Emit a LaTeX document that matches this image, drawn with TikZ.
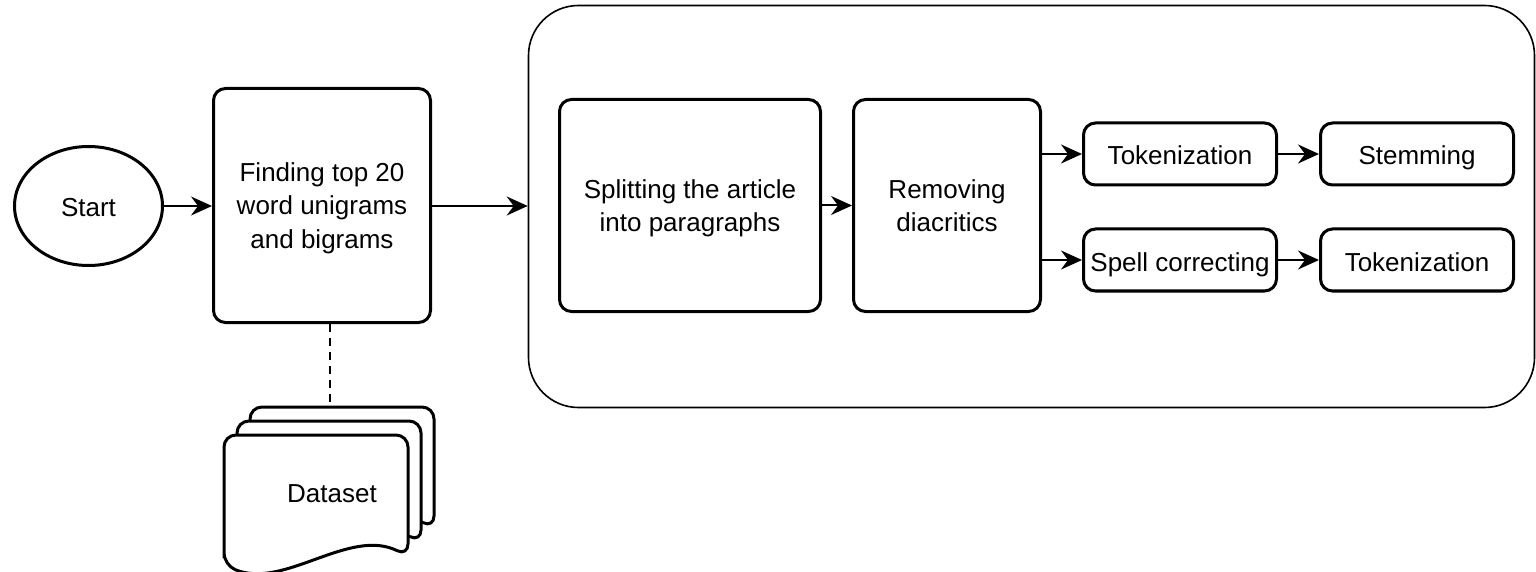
\documentclass[tikz,border=0pt]{standalone}
\usepackage{fontspec}
\setmainfont{Liberation Sans}
\usetikzlibrary{arrows.meta,shapes.geometric}

\tikzset{every picture/.style={line width=1.5pt}}
\tikzset{
  box/.style={draw,rounded corners=6pt,align=center,inner sep=1pt,text depth=-3.5pt},
  tbox/.style={draw,rounded corners=6pt,minimum width=96.5pt,minimum height=31pt,inner sep=0pt,text height=11pt,text depth=0pt},
  arr/.style={-{Stealth[length=10.5pt,width=9.5pt,inset=3.5pt]},line width=1pt},
  sheet/.style={draw,fill=white,rounded corners=6pt,line width=1.5pt}
}
\newcommand{\docsheet}[2]{%
  \draw[sheet] (#1,#2+130) -- (#1,#2) -- (#1+184,#2) -- (#1+184,#2+121)
    .. controls (#1+125,#2+92) and (#1+60,#2+155) .. (#1,#2+130) -- cycle;}

\begin{document}
\begin{tikzpicture}[x=0.5pt,y=-0.5pt,every node/.style={font=\fontsize{13}{16.8}\selectfont}]
\useasboundingbox (0,0) rectangle (1536,572);

%Container
\node[draw,line width=0.8pt,rounded corners=25pt,minimum width=503pt,minimum height=201pt] (pre) at (1031.5,206.5) {};

%Start and first step
\node[draw,ellipse,minimum width=74pt,minimum height=59.5pt,inner sep=0pt,text height=11pt,text depth=0pt] (start) at (88.5,206) {Start};
\node[box,minimum width=108.5pt,minimum height=117pt] (find) at (322,205.5) {Finding top 20\\word unigrams\\and bigrams};

%Steps inside the container
\node[box,minimum width=130.5pt,minimum height=106pt] (split) at (690,205.5) {Splitting the article\\into paragraphs};
\node[box,minimum width=93.5pt,minimum height=106pt,text depth=-6pt] (rem) at (947,205.5) {Removing\\diacritics};
\node[tbox] (tok1) at (1180,154) {Tokenization};
\node[tbox] (stem) at (1417,154) {Stemming};
\node[tbox] (spell) at (1180,260) {Spell correcting};
\node[tbox] (tok2) at (1417,260) {Tokenization};

%Arrows
\draw[arr] (start.east) -- (start.east -| find.west);
\draw[arr] (find.east |- start.east) -- (start.east -| pre.west);
\draw[arr] (split.east |- rem.west) -- (rem.west);
\draw[arr] (rem.east |- tok1.west) -- (tok1.west);
\draw[arr] (rem.east |- spell.west) -- (spell.west);
\draw[arr] (tok1.east) -- (stem.west);
\draw[arr] (spell.east) -- (tok2.west);

%Dataset
\coordinate (dstop) at (330,407);
\draw[line width=1pt,dash pattern=on 4pt off 3pt] (dstop |- find.south) -- (dstop);
\docsheet{250}{407}
\docsheet{237}{421}
\docsheet{224}{435}
\node (ds) at (332,494) {Dataset};

\end{tikzpicture}
\end{document}
